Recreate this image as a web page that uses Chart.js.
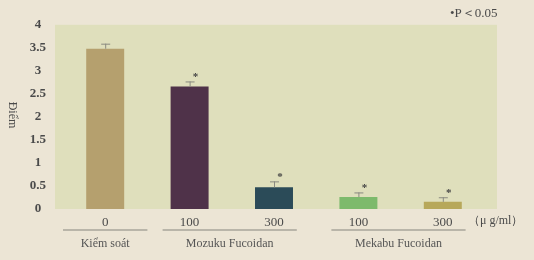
<!DOCTYPE html>
<html>
<head>
<meta charset="utf-8">
<script src="https://cdn.jsdelivr.net/npm/chart.js@4"></script>
<style>
    html, body { margin: 0; padding: 0; background: #ece5d5; }
    #wrap { width: 534px; height: 260px; position: relative; }
</style>
</head>
<body>
<div id="wrap"><canvas id="chart"></canvas></div>
<script>
// dose labels under each bar
const doses = ['0', '100', '300', '100', '300'];
// mean score per bar
const scores = [3.48, 2.66, 0.47, 0.26, 0.155];
// error bar (+) per bar
const errors = [0.11, 0.11, 0.13, 0.10, 0.10];
// significant vs control (P<0.05)
const significant = [false, true, true, true, true];
const barColors = ['#b5a06e', '#4f3249', '#2b4b58', '#7dba6c', '#b7a85a'];
// groups: name, first and last bar index
const groupNames = ['Kiểm soát', 'Mozuku Fucoidan', 'Mekabu Fucoidan'];
const groupStart = [0, 1, 3];
const groupEnd = [0, 2, 4];
const yTicks = [0, 0.5, 1, 1.5, 2, 2.5, 3, 3.5, 4];

const serif = "'Liberation Serif', 'DejaVu Serif', serif";
const textColor = '#4a4a4a';

const decorPlugin = {
    id: 'decor',
    beforeDraw(chart) {
        const { ctx, chartArea } = chart;
        ctx.save();
        ctx.fillStyle = '#dfdfbc';
        ctx.fillRect(chartArea.left - 8, chartArea.top, chartArea.right - chartArea.left + 20, chartArea.bottom - chartArea.top);
        ctx.restore();
    },
    afterDatasetsDraw(chart) {
        const { ctx, scales } = chart;
        const x = scales.x, y = scales.y;
        ctx.save();
        // error bars + asterisks
        scores.forEach((v, i) => {
            const cx = x.getPixelForValue(i);
            const top = y.getPixelForValue(v + errors[i]);
            const base = y.getPixelForValue(v);
            ctx.strokeStyle = '#8a8a80';
            ctx.lineWidth = 1;
            ctx.beginPath();
            ctx.moveTo(cx + 0.5, base);
            ctx.lineTo(cx + 0.5, top);
            ctx.moveTo(cx - 4, top + 0.5);
            ctx.lineTo(cx + 5, top + 0.5);
            ctx.stroke();
            if (significant[i]) {
                ctx.fillStyle = '#444';
                ctx.font = 'bold 11px ' + serif;
                ctx.textAlign = 'center';
                ctx.textBaseline = 'middle';
                ctx.fillText('*', cx + 6, top - 4);
            }
        });
        // group underline + names
        const cat = x.getPixelForValue(1) - x.getPixelForValue(0);
        groupNames.forEach((name, g) => {
            const single = groupStart[g] === groupEnd[g];
            const x0 = x.getPixelForValue(groupStart[g]) - cat * (single ? 0.5 : 0.32);
            const x1 = x.getPixelForValue(groupEnd[g]) + cat * (single ? 0.5 : 0.27);
            ctx.strokeStyle = '#a8a49a';
            ctx.lineWidth = 1.5;
            ctx.beginPath();
            ctx.moveTo(x0, 230);
            ctx.lineTo(x1, 230);
            ctx.stroke();
            ctx.fillStyle = '#555';
            ctx.font = '12px ' + serif;
            ctx.textAlign = 'center';
            ctx.textBaseline = 'middle';
            ctx.fillText(name, (x0 + x1) / 2, 244);
        });
        // unit
        ctx.fillStyle = textColor;
        ctx.font = '12px ' + serif;
        ctx.textAlign = 'left';
        ctx.fillText('（μ g/ml）', 468, 221);
        // legend note
        ctx.font = '13px ' + serif;
        ctx.fillText('•P＜0.05', 450, 14);
        // y title, rotated clockwise
        ctx.translate(12, 115);
        ctx.rotate(Math.PI / 2);
        ctx.font = '12px ' + serif;
        ctx.textAlign = 'center';
        ctx.fillText('Điểm', 0, 0);
        ctx.restore();
    }
};

new Chart(document.getElementById('chart'), {
    type: 'bar',
    data: {
        labels: doses,
        datasets: [{
            data: scores,
            backgroundColor: barColors,
            borderWidth: 0,
            barPercentage: 0.45,
            categoryPercentage: 1
        }]
    },
    options: {
        responsive: true,
        maintainAspectRatio: false,
        animation: false,
        layout: { padding: { left: 0, right: 49, top: 21, bottom: 0 } },
        plugins: { legend: { display: false }, tooltip: { enabled: false } },
        scales: {
            x: {
                grid: { display: false, drawTicks: false },
                border: { display: false },
                ticks: { color: textColor, font: { family: serif, size: 13 }, padding: 6 },
                afterFit(s) { s.height = 51; }
            },
            y: {
                min: 0, max: 4,
                afterBuildTicks(s) { s.ticks = yTicks.map(v => ({ value: v })); },
                grid: { display: false, drawTicks: false },
                border: { display: false },
                ticks: {
                    color: textColor,
                    font: { family: serif, size: 13, weight: 'bold' },
                    padding: 17,
                    crossAlign: 'center',
                    callback: v => String(v)
                },
                afterFit(s) { s.width = 63; }
            }
        }
    },
    plugins: [decorPlugin]
});
</script>
</body>
</html>
